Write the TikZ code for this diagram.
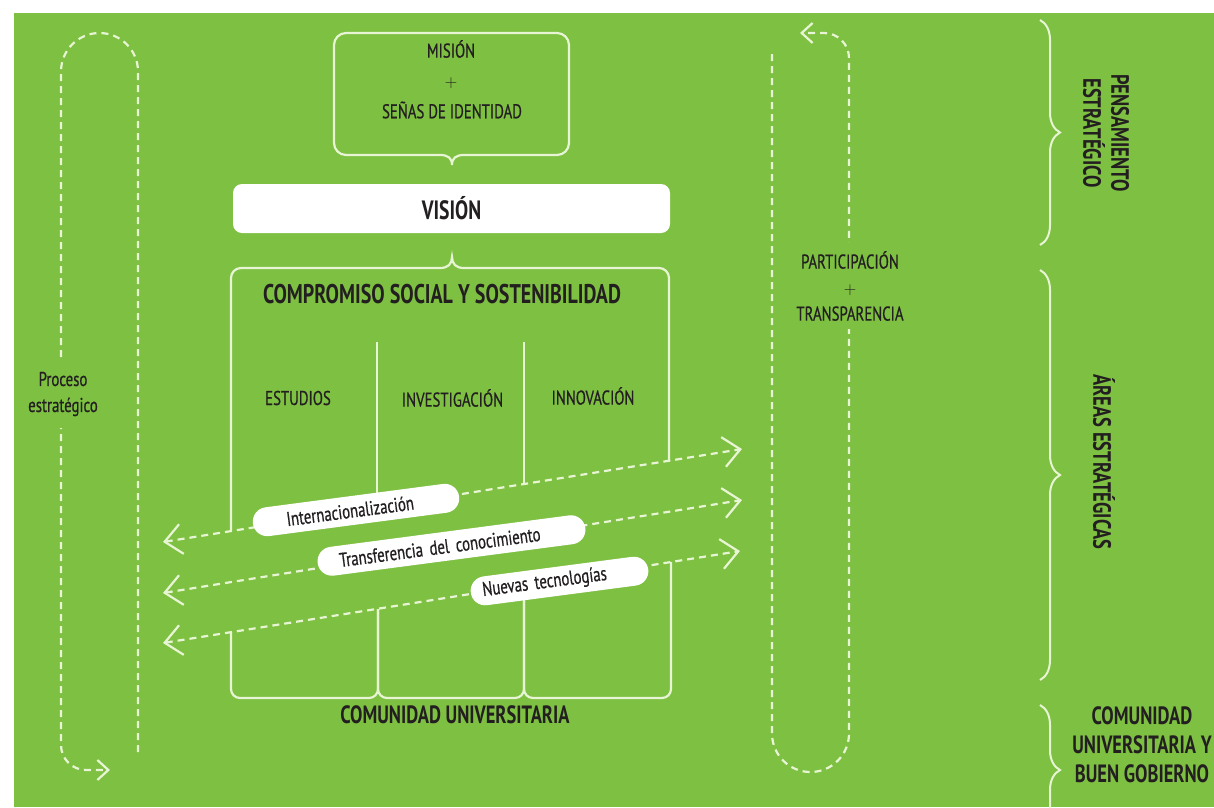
\documentclass[tikz,border=0pt]{standalone}
\usepackage{fontspec}
\setmainfont{PT Sans}[FakeStretch=0.74,UprightFeatures={FakeBold=0.6}]
\usetikzlibrary{arrows.meta,decorations.pathreplacing}
\definecolor{leaf}{RGB}{126,192,66}
\definecolor{pale}{RGB}{232,245,212}
\definecolor{ink}{RGB}{35,31,32}
\newcommand{\plussign}{{\fontsize{16}{18}\selectfont$+$}}

\begin{document}
\begin{tikzpicture}[x=1pt,y=-1pt,
  boxline/.style={draw=pale,line width=2.2pt},
  trail/.style={draw=pale,line width=2.2pt,dash pattern=on 7pt off 5pt},
  bigbarb/.style={{Straight Barb[length=17pt,width=30pt]}-{Straight Barb[length=17pt,width=30pt]}},
  smallbarb/.style={-{Straight Barb[length=11pt,width=20pt]}},
  txt/.style={text=ink,font=\fontsize{20}{26}\selectfont,align=center,inner sep=0pt},
  head/.style={text=ink,font=\bfseries\fontsize{25}{30}\selectfont,align=center,inner sep=0pt},
  pill/.style={fill=white,rounded corners=14.5pt,minimum height=29pt,inner xsep=0pt,inner ysep=0pt,
    text=ink,font=\fontsize{20}{22}\selectfont,align=left},
  brc/.style={draw=pale,line width=2pt,decorate,decoration={brace,amplitude=20pt}},
]
\useasboundingbox (0,0) rectangle (1214,807);
\fill[white] (0,0) rectangle (1214,807);
\fill[leaf] (14,13) rectangle (1214,807);

% loops
\coordinate (procstart) at (138,752);
\coordinate (procend) at (110,770);
\draw[trail,smallbarb,rounded corners=38.5pt] (procstart) -- (138,33) -- (61,33)
  [rounded corners=25pt] -- (61,770) -- (procend);
\coordinate (partstart) at (772,54);
\coordinate (partend) at (800,33);
\draw[trail,smallbarb,rounded corners=38.5pt] (partstart) -- (772,772) -- (849,772)
  [rounded corners=25pt] -- (849,33) -- (partend);
\node[txt,fill=leaf,inner xsep=3pt,inner ysep=12pt] (proceso) at (63,394) {Proceso\\estratégico};
\node[txt,fill=leaf,inner xsep=3pt,inner ysep=8pt] (particip) at (850,286)
  {PARTICIPACIÓN\\\plussign\\TRANSPARENCIA};

% mision
\draw[boxline,rounded corners=12pt] (440,155) -- (334,155) -- (334,33) -- (569,33) -- (569,155) -- (464,155);
\draw[boxline] (440,155) .. controls (448,155) and (452,158) .. (452,165)
  .. controls (452,158) and (456,155) .. (464,155);
\node[txt] (mision) at (451,49) {MISIÓN};
\node[txt] (mas) at (451,83) {\plussign};
\node[txt] (senas) at (452,110) {SEÑAS DE IDENTIDAD};

% vision
\node[fill=white,rounded corners=9pt,minimum width=437pt,minimum height=49pt,inner sep=0pt,
  text=ink,font=\bfseries\fontsize{26.5}{30}\selectfont] (vision) at (451.5,208.5) {VISIÓN};

% compromiso
\draw[boxline,rounded corners=10pt] (231,531) -- (231,268) -- (440,268);
\draw[boxline] (440,268) .. controls (448,268) and (452,264) .. (452,257)
  .. controls (452,264) and (456,268) .. (464,268);
\draw[boxline,rounded corners=10pt] (464,268) -- (669,268) -- (669,461);
\draw[boxline] (377,342) -- (377,508);
\draw[boxline] (524,342) -- (524,484);
\node[head,font=\bfseries\fontsize{27}{30}\selectfont] (compromiso) at (442,294) {COMPROMISO SOCIAL Y SOSTENIBILIDAD};
\node[txt] (estudios) at (298,398) {ESTUDIOS};
\node[txt] (investig) at (452.5,398) {INVESTIGACIÓN};
\node[txt] (innova) at (593,396) {INNOVACIÓN};

% comunidad
\draw[boxline,rounded corners=9pt] (231,632) -- (231,698) -- (378,698) -- (378,609);
\draw[boxline,rounded corners=9pt] (378,609) -- (378,698) -- (524,698) -- (524,585);
\draw[boxline,rounded corners=9pt] (524,585) -- (524,698) -- (671,698) -- (671,562);
\node[head] (comunidad) at (455,715) {COMUNIDAD UNIVERSITARIA};

% ejes
\coordinate (intw) at (163,542);
\coordinate (inte) at (742,449);
\coordinate (trfw) at (163,593);
\coordinate (trfe) at (742,500);
\coordinate (nuew) at (163,643);
\coordinate (nuee) at (740,551);
\draw[trail,bigbarb] (intw) -- (inte);
\draw[trail,bigbarb] (trfw) -- (trfe);
\draw[trail,bigbarb] (nuew) -- (nuee);
\node[pill,rotate=7.5,text width=140pt,inner xsep=34pt] (intl) at (356,510) {Internacionalización};
\node[pill,rotate=7.5,text width=226pt,inner xsep=22pt] (transf) at (451.5,545.5) {Transferencia del conocimiento};
\node[pill,rotate=7.5,text width=155pt,inner xsep=12pt] (nuevas) at (559.5,581) {Nuevas tecnologías};

% llaves
\draw[brc] (1040,20) -- (1040,245);
\draw[brc] (1040,270) -- (1040,680);
\draw[brc] (1040,705) -- (1040,835);
\node[head,rotate=-90,font=\bfseries\fontsize{25}{28}\selectfont] (pensam) at (1106,133) {PENSAMIENTO\\ESTRATÉGICO};
\node[head,rotate=-90] (areas) at (1104,462) {ÁREAS ESTRATÉGICAS};
\node[head,font=\bfseries\fontsize{25}{29}\selectfont] (gobierno) at (1142,745) {COMUNIDAD\\UNIVERSITARIA Y\\BUEN GOBIERNO};
\end{tikzpicture}
\end{document}
